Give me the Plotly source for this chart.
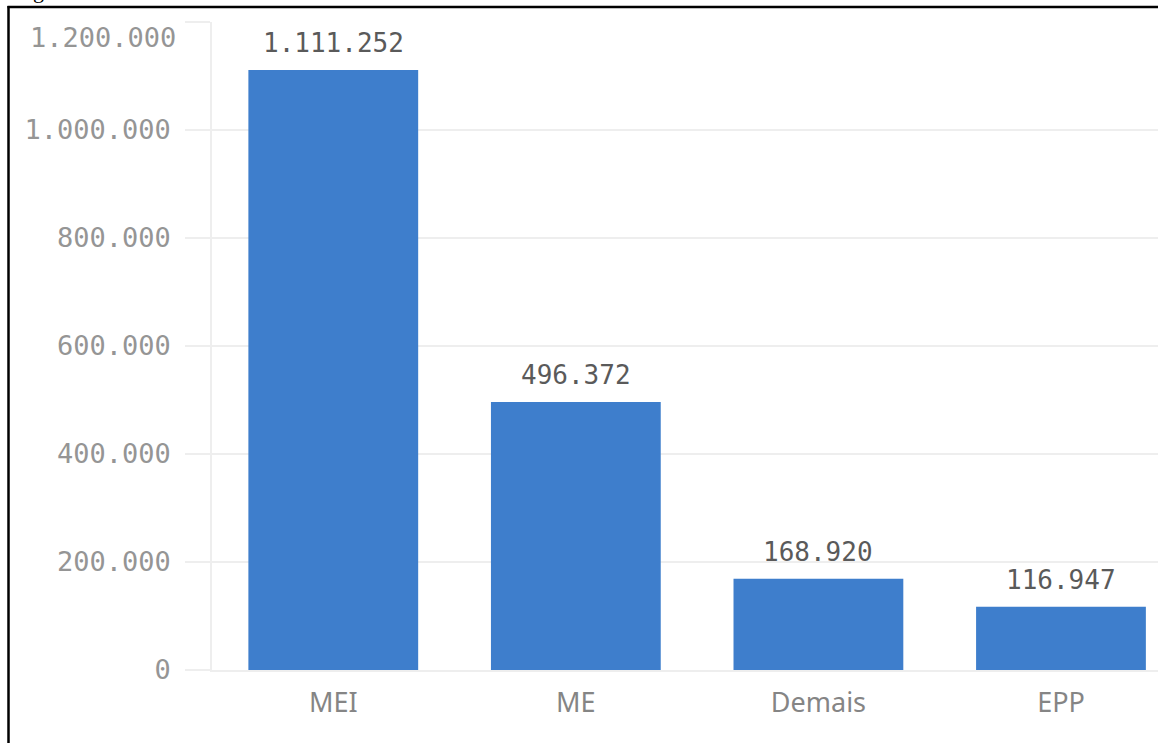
import plotly.graph_objects as go

# Empresas por porte
categories = ["MEI", "ME", "Demais", "EPP"]
values = [1111252, 496372, 168920, 116947]

y_ticks = [0, 200000, 400000, 600000, 800000, 1000000, 1200000]
y_tick_labels = ["0", "200.000", "400.000", "600.000", "800.000", "1.000.000", "1.200.000"]

W, H = 1158, 743
L, T, B = 212, 22, 73
plot_w, plot_h = W - L, H - T - B

def px_x(p):
    return (p - L) / plot_w

def px_y(p):
    return (H - B - p) / plot_h

def fmt(v):
    return f"{v:,}".replace(",", ".")

BAR = "#3e7ecc"
GRID = "#eeeeee"
MONO = "DejaVu Sans Mono"
TICK_GREY = "#959595"

fig = go.Figure(go.Bar(
    x=categories, y=values, width=0.70,
    marker=dict(color=BAR, line=dict(width=0)),
    hoverinfo="skip",
))

annotations = []
for c, v in zip(categories, values):
    annotations.append(dict(
        x=c, y=v, xref="x", yref="y", text=fmt(v), showarrow=False,
        yanchor="bottom", yshift=10,
        font=dict(family=MONO, size=26, color="#5a5a5a"),
    ))

# top tick label sits inside the plot area
annotations.append(dict(
    x=px_x(178), y=y_ticks[-1], xref="paper", yref="y",
    text=y_tick_labels[-1], showarrow=False, xanchor="right", yanchor="middle",
    yshift=-15, font=dict(family=MONO, size=27, color=TICK_GREY),
))

# caption fragment above the frame
annotations.append(dict(
    x=px_x(31), y=px_y(-10), xref="paper", yref="paper", text="g",
    showarrow=False, xanchor="left", yanchor="middle",
    font=dict(family="Liberation Serif", size=22, color="#000000"),
))

shapes = [
    dict(type="line", xref="paper", yref="paper",
         x0=px_x(8.5), x1=px_x(8.5), y0=px_y(6), y1=px_y(760),
         line=dict(color="#000000", width=2.5)),
    dict(type="line", xref="paper", yref="paper",
         x0=px_x(7.5), x1=px_x(1170), y0=px_y(7), y1=px_y(7),
         line=dict(color="#000000", width=2.5)),
]

fig.update_layout(
    width=W, height=H,
    margin=dict(l=L, r=0, t=T, b=B, pad=0),
    paper_bgcolor="white", plot_bgcolor="white",
    showlegend=False, bargap=0.3,
    annotations=annotations, shapes=shapes,
    xaxis=dict(
        range=[-0.5, 3.4], showgrid=False, showline=True, linecolor=GRID,
        linewidth=1.5, ticks="", zeroline=False,
        tickfont=dict(family="Noto Sans", size=27, color="#858585"),
        ticklabelstandoff=8,
    ),
    yaxis=dict(
        range=[0, 1200000], tickvals=y_ticks,
        ticktext=y_tick_labels[:-1] + [""],
        showgrid=True, gridcolor=GRID, gridwidth=1.5,
        showline=True, linecolor=GRID, linewidth=1.5,
        zeroline=False, ticks="outside", ticklen=25, tickcolor=GRID,
        tickwidth=1.5, ticklabelstandoff=9,
        tickfont=dict(family=MONO, size=27, color=TICK_GREY),
    ),
)

fig.write_html("out.html")
